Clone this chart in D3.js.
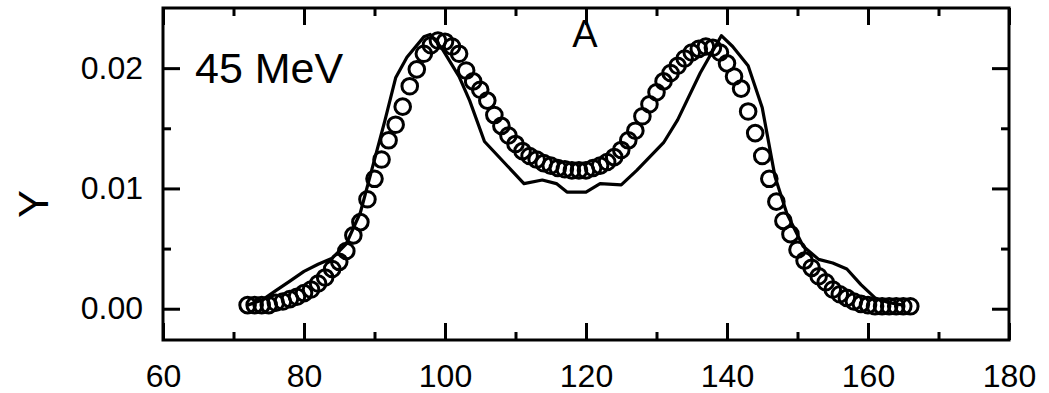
<!DOCTYPE html>
<html>
<head>
<meta charset="utf-8">
<script src="https://cdn.jsdelivr.net/npm/d3@7"></script>
<style>
  html, body { margin: 0; padding: 0; background: #fff; }
  svg { display: block; }
  text { font-family: "Liberation Sans", Arial, sans-serif; fill: #000; }
</style>
</head>
<body>
<svg id="chart" width="1049" height="393"></svg>
<script>
// ---- data ----
const expX = [72,73,74,75,76,77,78,79,80,81,82,83,84,85,86,87,88,89,90,91,92,93,94,95,96,97,98,99,100,101,102,103,104,105,106,107,108,109,110,111,112,113,114,115,116,117,118,119,120,121,122,123,124,125,126,127,128,129,130,131,132,133,134,135,136,137,138,139,140,141,142,143,144,145,146,147,148,149,150,151,152,153,154,155,156,157,158,159,160,161,162,163,164,165,166];
const expY = [0.0003,0.0003,0.0003,0.0003,0.0005,0.0006,0.0008,0.0010,0.0013,0.0016,0.0021,0.0026,0.0033,0.0039,0.0048,0.0061,0.0072,0.0091,0.0108,0.0124,0.0140,0.0153,0.0168,0.0185,0.0199,0.0212,0.0219,0.0223,0.0222,0.0218,0.0212,0.0198,0.0189,0.0182,0.0173,0.0161,0.0152,0.0144,0.0137,0.0131,0.0127,0.0124,0.0121,0.0119,0.0117,0.0116,0.0115,0.0115,0.0115,0.0117,0.0119,0.0122,0.0126,0.0132,0.0140,0.0148,0.0160,0.0170,0.0180,0.0189,0.0196,0.0202,0.0208,0.0213,0.0216,0.0218,0.0217,0.0213,0.0204,0.0193,0.0183,0.0164,0.0146,0.0127,0.0108,0.0089,0.0073,0.0062,0.0049,0.0040,0.0034,0.0027,0.0022,0.0016,0.0012,0.0009,0.0006,0.0004,0.0003,0.0002,0.0002,0.0002,0.0002,0.0002,0.0002];

const calcX = [72,74,76,78,80,82,84,86,88,90,91.5,93,94.6,97,97.9,99.5,102,103.5,105.6,111.2,113.8,115.8,117.3,120,122,125,127.2,131,133,136.2,139.2,140.8,143,145,146.8,148.5,150.8,153,155,157,159,161,163,165];
const calcY = [0.0003,0.0007,0.0015,0.0023,0.0031,0.0037,0.0042,0.0054,0.0080,0.0124,0.0157,0.0192,0.0209,0.0226,0.0228,0.0217,0.0193,0.0173,0.0139,0.0104,0.0107,0.0104,0.0097,0.0097,0.0104,0.0103,0.0115,0.0138,0.0157,0.0196,0.0227,0.0218,0.0202,0.0167,0.0110,0.0079,0.0052,0.0041,0.0038,0.0033,0.0020,0.0009,0.0005,0.0003];

const xMajor = [60,80,100,120,140,160,180];
const xMinor = [70,90,110,130,150,170];
const yMajor = [0.00,0.01,0.02];
const yMinor = [0.005,0.015];
const yTitle = "Y";
const energyLabel = "45 MeV";
const panelLabel = "A";

// ---- layout ----
const svg = d3.select("#chart");
const L = 163, R = 1009, T = 8, B = 340;
const x = d3.scaleLinear().domain([60,180]).range([L,R]);
const y = d3.scaleLinear().domain([-0.0026,0.025]).range([B,T]);
const fs = 32;

function styleAxis(g){
  g.select(".domain").remove();
  g.selectAll(".tick line").attr("stroke","#000").attr("stroke-width",3);
  g.selectAll(".tick text").style("font-size",fs+"px").style("font-family","'Liberation Sans', Arial, sans-serif").attr("fill","#000");
}

// bottom
svg.append("g").attr("transform",`translate(0,${B})`)
  .call(d3.axisBottom(x).tickValues(xMajor).tickSize(-17).tickSizeOuter(0).tickPadding(24).tickFormat(d3.format("d")))
  .call(styleAxis);
svg.append("g").attr("transform",`translate(0,${B})`)
  .call(d3.axisBottom(x).tickValues(xMinor).tickSize(-8).tickSizeOuter(0).tickFormat(""))
  .call(styleAxis);
// top
svg.append("g").attr("transform",`translate(0,${T})`)
  .call(d3.axisTop(x).tickValues(xMajor).tickSize(-17).tickSizeOuter(0).tickFormat(""))
  .call(styleAxis);
svg.append("g").attr("transform",`translate(0,${T})`)
  .call(d3.axisTop(x).tickValues(xMinor).tickSize(-8).tickSizeOuter(0).tickFormat(""))
  .call(styleAxis);
// left
svg.append("g").attr("transform",`translate(${L},0)`)
  .call(d3.axisLeft(y).tickValues(yMajor).tickSize(-17).tickSizeOuter(0).tickPadding(20).tickFormat(d3.format(".2f")))
  .call(styleAxis);
svg.append("g").attr("transform",`translate(${L},0)`)
  .call(d3.axisLeft(y).tickValues(yMinor).tickSize(-8).tickSizeOuter(0).tickFormat(""))
  .call(styleAxis);
// right
svg.append("g").attr("transform",`translate(${R},0)`)
  .call(d3.axisRight(y).tickValues(yMajor).tickSize(-17).tickSizeOuter(0).tickFormat(""))
  .call(styleAxis);
svg.append("g").attr("transform",`translate(${R},0)`)
  .call(d3.axisRight(y).tickValues(yMinor).tickSize(-8).tickSizeOuter(0).tickFormat(""))
  .call(styleAxis);

// frame
svg.append("rect").attr("x",L).attr("y",T).attr("width",R-L).attr("height",B-T)
  .attr("fill","none").attr("stroke","#000").attr("stroke-width",3);

// calculated line
const line = d3.line().x((d,i)=>x(calcX[i])).y((d,i)=>y(calcY[i]));
svg.append("path").datum(calcY).attr("d",line)
  .attr("fill","none").attr("stroke","#000").attr("stroke-width",3.2).attr("stroke-linejoin","round");

// experimental circles
svg.append("g").selectAll("circle").data(expY).join("circle")
  .attr("cx",(d,i)=>x(expX[i])).attr("cy",d=>y(d)).attr("r",7.8)
  .attr("fill","none").attr("stroke","#000").attr("stroke-width",3);

// texts
svg.append("text").attr("x",195).attr("y",83).style("font-size","43px").text(energyLabel);
svg.append("text").attr("x",585).attr("y",47).attr("text-anchor","middle").style("font-size","38px").text(panelLabel);
svg.append("text").attr("transform","translate(48,204) rotate(-90)").attr("text-anchor","middle")
  .style("font-size","42px").text(yTitle);
</script>
</body>
</html>
